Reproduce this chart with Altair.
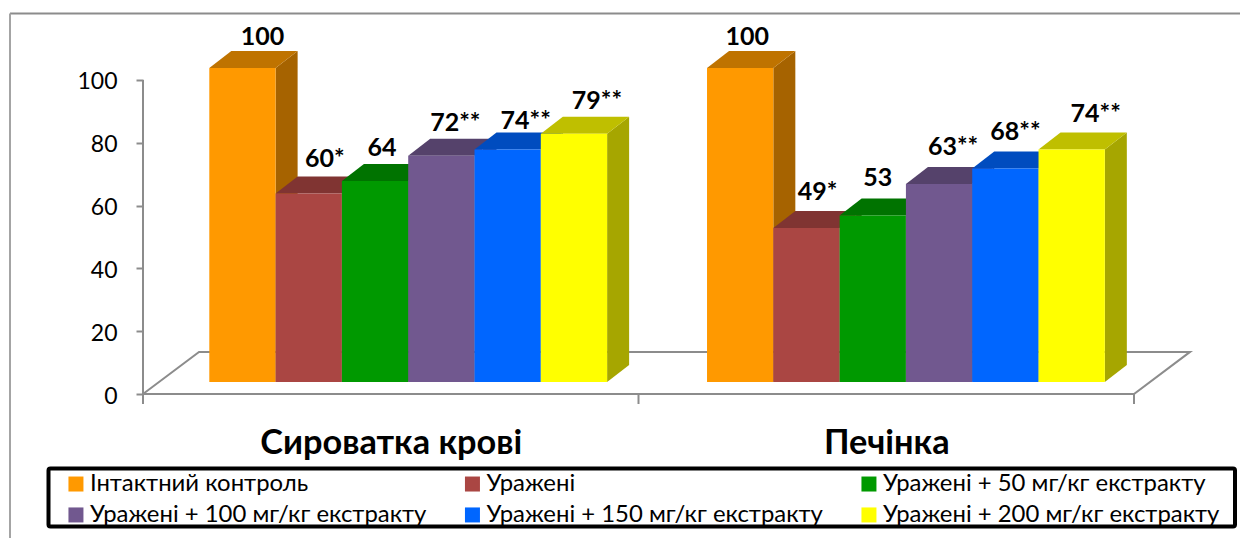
import altair as alt
import pandas as pd

# Chart values
groups = ["Сироватка крові", "Печінка"]
series = [
    "Інтактний контроль",
    "Уражені",
    "Уражені + 50 мг/кг екстракту",
    "Уражені + 100 мг/кг екстракту",
    "Уражені + 150 мг/кг екстракту",
    "Уражені + 200 мг/кг екстракту",
]
serum_values = [100, 60, 64, 72, 74, 79]
liver_values = [100, 49, 53, 63, 68, 74]
significance = ["", "*", "", "**", "**", "**"]
colors = ["#FF9900", "#AA4643", "#009900", "#71588F", "#0066FF", "#FFFF00"]
y_ticks = [0, 20, 40, 60, 80, 100]

# Nudges of the value labels, in pixels
serum_label_dx = [9, 5, -4, 3, 7, 12]
liver_label_dx = [-4, 0, -6, 3, -1, 13]
serum_label_dy = [-14, -18, -16, -16, -12, -16]
liver_label_dy = [-14, -19, -21, -20, -19, -19]

FONT = "Lato, Noto Sans, sans-serif"
GRID = "#8c8c8c"

# Pseudo-3D geometry: x is measured in bar widths, y in axis units
PLOT_W, PLOT_H = 991, 380
X_MAX = 14.947
Y_MAX = 121.0
GROUP_STARTS = [1.0, 8.507]
BAR_DX, BAR_DY = 0.332, 5.42
FLOOR_DX, FLOOR_DY = 0.845, 13.4
BASE = 3.83


def shade(hex_color, factor):
    rgb = [int(hex_color[i:i + 2], 16) for i in (1, 3, 5)]
    return "#" + "".join(f"{round(c * factor):02x}" for c in rgb)


x_scale = alt.Scale(domain=[0, X_MAX], nice=False, zero=False)
y_scale = alt.Scale(domain=[0, Y_MAX], nice=False, zero=False)
color_scale = alt.Scale(domain=series, range=colors)

x_axis = alt.Axis(
    values=[X_MAX / 4, X_MAX * 3 / 4],
    labelExpr=f"datum.value < {X_MAX / 2} ? '{groups[0]}' : '{groups[1]}'",
    title=None,
    grid=False,
    domain=False,
    ticks=False,
    labelFont=FONT,
    labelFontWeight="bold",
    labelFontSize=34.3,
    labelColor="#000000",
    labelPadding=32.5,
    labelLimit=600,
    labelOverlap=False,
    labelFlush=False,
)
y_axis = alt.Axis(
    values=y_ticks,
    title=None,
    grid=False,
    domain=False,
    tickColor=GRID,
    tickWidth=2,
    tickSize=7,
    labelFont=FONT,
    labelFontSize=23,
    labelColor="#000000",
    labelPadding=19,
    labelOffset=2,
)
X = alt.X("x:Q", scale=x_scale, axis=x_axis)
Y = alt.Y("y:Q", scale=y_scale, axis=y_axis)

layers = []

# Floor outline of the 3D box
floor = pd.DataFrame({
    "x": [0, X_MAX, X_MAX + FLOOR_DX, FLOOR_DX, 0],
    "y": [0, 0, FLOOR_DY, FLOOR_DY, 0],
    "step": range(5),
})
layers.append(
    alt.Chart(floor).mark_line(color=GRID, strokeWidth=2).encode(x=X, y=Y, order="step:Q")
)

# Value axis line, carried slightly below zero by the category ticks
layers.append(
    alt.Chart(pd.DataFrame({"y": [0], "y2": [100]})).mark_rule(color=GRID, strokeWidth=2).encode(
        x=alt.value(0), y=Y, y2="y2:Q"
    )
)
layers.append(
    alt.Chart(pd.DataFrame({"x": [0, X_MAX / 2, X_MAX]})).mark_rule(color=GRID, strokeWidth=2).encode(
        x=X, y=alt.value(PLOT_H), y2=alt.value(PLOT_H + 10)
    )
)

labels = []
for start, values, nudges_x, nudges_y in zip(
    GROUP_STARTS,
    [serum_values, liver_values],
    [serum_label_dx, liver_label_dx],
    [serum_label_dy, liver_label_dy],
):
    for i, value in enumerate(values):
        x0, x1 = start + i, start + i + 1
        top = value + BASE
        name, color = series[i], colors[i]

        # Right-hand face
        side = pd.DataFrame({
            "x": [x1, x1 + BAR_DX],
            "y": [top, top + BAR_DY],
            "y2": [BASE, BASE + BAR_DY],
        })
        layers.append(
            alt.Chart(side).mark_area(color=shade(color, 0.65), interpolate="linear").encode(
                x=X, y=Y, y2="y2:Q"
            )
        )

        # Top face
        cap = pd.DataFrame({
            "x": [x0, x0 + BAR_DX, x1, x1 + BAR_DX],
            "y": [top, top + BAR_DY, top + BAR_DY, top + BAR_DY],
            "y2": [top, top, top, top + BAR_DY],
        })
        layers.append(
            alt.Chart(cap).mark_area(color=shade(color, 0.75), interpolate="linear").encode(
                x=X, y=Y, y2="y2:Q"
            )
        )

        # Front face
        front = pd.DataFrame({
            "x": [x0], "x2": [x1], "y": [top], "y2": [BASE], "series": [name],
        })
        layers.append(
            alt.Chart(front).mark_rect().encode(
                x=X,
                x2="x2:Q",
                y=Y,
                y2="y2:Q",
                color=alt.Color(
                    "series:N",
                    scale=color_scale,
                    legend=alt.Legend(
                        title=None,
                        orient="none",
                        legendX=-79,
                        legendY=458,
                        columns=3,
                        gridAlign="all",
                        columnPadding=33.5,
                        rowPadding=6,
                        padding=0,
                        symbolType="square",
                        symbolSize=225,
                        symbolStrokeWidth=0,
                        labelFont=FONT,
                        labelFontSize=23.9,
                        labelColor="#000000",
                        labelLimit=600,
                        labelOffset=2,
                        values=[series[k] for k in (0, 3, 1, 4, 2, 5)],
                    ),
                ),
            )
        )

        # Value label above the top face
        label = pd.DataFrame({
            "x": [x0 + (1 + BAR_DX) / 2],
            "y": [top + BAR_DY],
            "text": [f"{value}{significance[i]}"],
        })
        labels.append(
            alt.Chart(label).mark_text(
                font=FONT,
                fontSize=25,
                fontWeight="bold",
                color="#000000",
                baseline="middle",
                align="center",
                dx=nudges_x[i],
                dy=nudges_y[i],
            ).encode(x=X, y=Y, text="text:N")
        )

layers.extend(labels)

# Page frame along the top and left edges, and the box around the legend
anchor = pd.DataFrame({"n": [0]})
layers.append(
    alt.Chart(anchor).mark_rule(color=GRID, strokeWidth=2).encode(
        x=alt.value(-133), x2=alt.value(1097), y=alt.value(-0.5)
    )
)
layers.append(
    alt.Chart(anchor).mark_rule(color="#a4a4a4", strokeWidth=2).encode(
        x=alt.value(-133), y=alt.value(-0.5), y2=alt.value(524)
    )
)
layers.append(
    alt.Chart(anchor).mark_rect(
        fill="#ffffff", stroke="#000000", strokeWidth=4, cornerRadius=2
    ).encode(
        x=alt.value(-94.5), x2=alt.value(1092), y=alt.value(454.5), y2=alt.value(512.5)
    )
)

chart = (
    alt.layer(*layers)
    .properties(
        width=PLOT_W,
        height=PLOT_H,
        padding={"left": 143, "top": 14, "right": 106, "bottom": 144},
        autosize=alt.AutoSizeParams(type="none"),
        background="#ffffff",
    )
    .configure_view(stroke=None)
)

chart.save("out.html", embed_options={"renderer": "svg", "actions": False})
